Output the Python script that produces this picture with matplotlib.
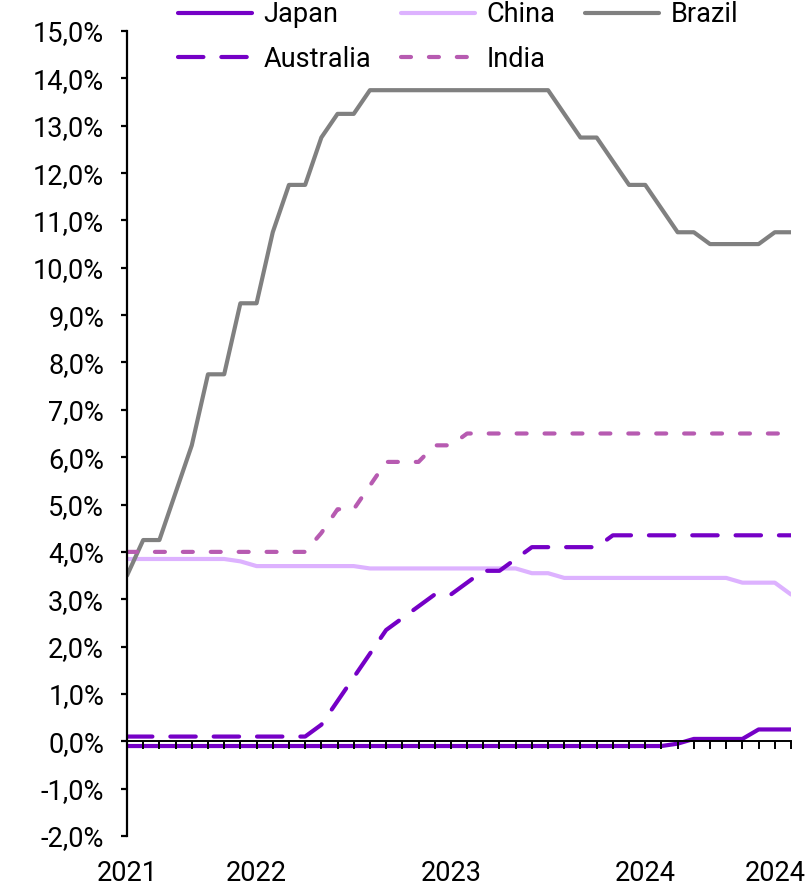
import matplotlib
matplotlib.use("Agg")
import matplotlib.pyplot as plt
from matplotlib.ticker import FuncFormatter, FixedLocator

plt.rcParams['font.family'] = ['Roboto', 'DejaVu Sans']

# Monthly, May 2021 .. Oct 2024 (42 points)
months = list(range(42))
year_label_pos = [0, 8, 20, 32, 40]
year_labels = ["2021", "2022", "2023", "2024", "2024"]

japan = [-0.1] * 34 + [-0.05] + [0.05] * 4 + [0.25] * 3
china = ([3.85] * 7 + [3.8] + [3.7] * 7 + [3.65] * 10 + [3.55] * 2
         + [3.45] * 11 + [3.35] * 3 + [3.1])
brazil = [3.5, 4.25, 4.25, 5.25, 6.25, 7.75, 7.75, 9.25, 9.25, 10.75,
          11.75, 11.75, 12.75, 13.25, 13.25] + [13.75] * 12 + \
         [13.25, 12.75, 12.75, 12.25, 11.75, 11.75, 11.25, 10.75, 10.75,
          10.5, 10.5, 10.5, 10.5, 10.75, 10.75]
australia = [0.1] * 12 + [0.35, 0.85, 1.35, 1.85, 2.35, 2.6, 2.85, 3.1, 3.1,
                          3.35, 3.6, 3.6, 3.85] + [4.1] * 5 + [4.35] * 12
india = [4.0] * 12 + [4.4, 4.9, 4.9, 5.4, 5.9, 5.9, 5.9, 6.25, 6.25] + [6.5] * 21

c_japan = "#7500C6"
c_china = "#DDB2FF"
c_brazil = "#808080"
c_india = "#B75BB1"

fs = 19.5

fig = plt.figure(figsize=(8.10, 8.86), dpi=100)
ax = fig.add_axes([127 / 810, 1 - 836 / 886, (791 - 127) / 810, (836 - 31) / 886])

lw = 3.0
l_jp, = ax.plot(months, japan, color=c_japan, lw=lw, solid_capstyle='round', solid_joinstyle='round')
l_cn, = ax.plot(months, china, color=c_china, lw=lw, solid_capstyle='round', solid_joinstyle='round')
l_br, = ax.plot(months, brazil, color=c_brazil, lw=lw, solid_capstyle='round', solid_joinstyle='round')
l_au, = ax.plot(months, australia, color=c_japan, lw=lw, linestyle=(0, (6.1, 4.3)),
                dash_capstyle='round', dash_joinstyle='round')
l_in, = ax.plot(months, india, color=c_india, lw=lw, linestyle=(0, (2.4, 4.3)),
                dash_capstyle='round', dash_joinstyle='round')

ax.set_xlim(0, 41)
ax.set_ylim(-2, 15)

for s in ['top', 'right']:
    ax.spines[s].set_visible(False)
ax.spines['bottom'].set_position(('data', 0))
ax.spines['bottom'].set_linewidth(1.4)
ax.spines['left'].set_linewidth(1.6)
ax.set_axisbelow(False)

ax.xaxis.set_major_locator(FixedLocator(months))
ax.tick_params(axis='x', direction='out', length=6, width=1.4, labelbottom=False)
ax.set_yticks(range(-2, 16))
ax.yaxis.set_major_formatter(FuncFormatter(lambda v, p: f"{v:.1f}%".replace('.', ',')))
ax.tick_params(axis='y', direction='out', length=4.5, width=1.6, labelsize=fs, pad=12)

sec = ax.secondary_xaxis(0.0)
sec.set_xticks(year_label_pos)
sec.set_xticklabels(year_labels)
sec.tick_params(length=0, labelsize=fs, pad=17)
sec.spines['bottom'].set_visible(False)

handles = [l_jp, l_au, l_cn, l_in, l_br]
labels = ["Japan", "Australia", "China", "India", "Brazil"]
fig.legend(handles, labels, ncol=3, loc='upper left', bbox_to_anchor=(178 / 810, 1.0 - 1 / 886),
           frameon=False, fontsize=fs, handlelength=2.75, handletextpad=0.4,
           columnspacing=1.1, labelspacing=0.65, borderpad=0, borderaxespad=0)

fig.savefig("out.png", dpi=100)
